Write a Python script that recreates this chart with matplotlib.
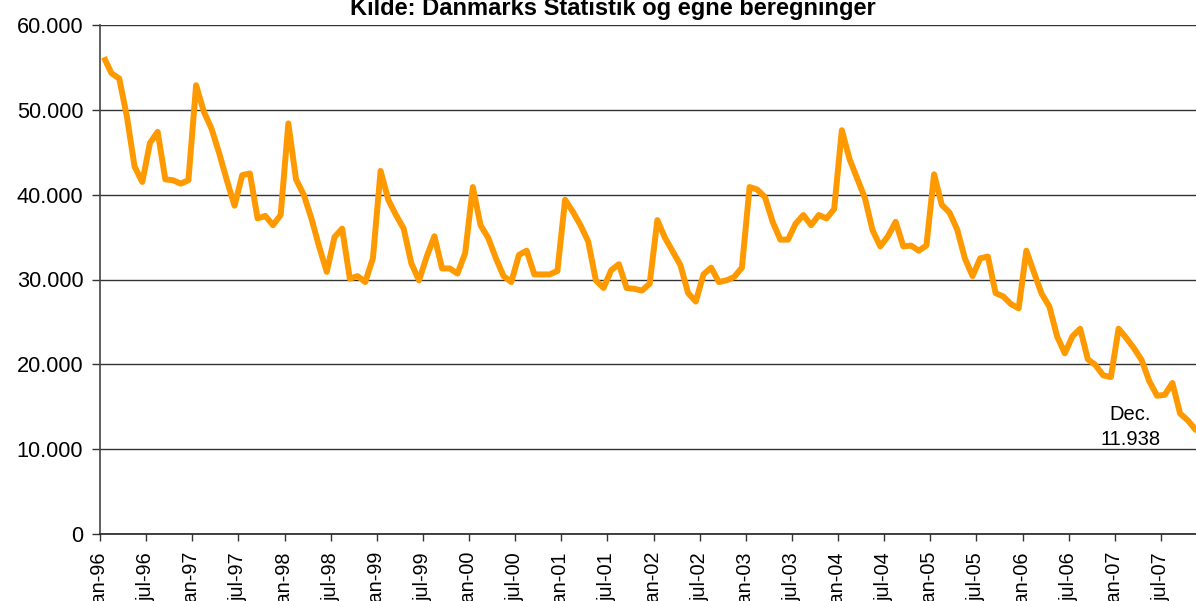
import matplotlib
matplotlib.use("Agg")
import matplotlib.pyplot as plt

plt.rcParams['font.family'] = ['Liberation Sans', 'DejaVu Sans']

title = "Kilde: Danmarks Statistik og egne beregninger"

values = [
    56200, 54300, 53700, 49200, 43300, 41500, 46100, 47400, 41800, 41700, 41300, 41700,
    52900, 49800, 47800, 44900, 41700, 38700, 42300, 42500, 37200, 37500, 36400, 37600,
    48400, 41800, 40000, 37200, 33900, 30900, 35000, 36000, 30100, 30400, 29700, 32500,
    42800, 39400, 37600, 36000, 31900, 29900, 32700, 35100, 31300, 31300, 30700, 33100,
    40900, 36400, 34900, 32500, 30400, 29700, 32900, 33400, 30600, 30600, 30600, 31000,
    39400, 38000, 36400, 34500, 29900, 29000, 31100, 31800, 29000, 28900, 28700, 29500,
    37000, 34900, 33300, 31700, 28400, 27400, 30600, 31400, 29700, 29900, 30300, 31400,
    40900, 40600, 39700, 36800, 34700, 34700, 36600, 37600, 36400, 37600, 37200, 38300,
    47600, 44200, 41900, 39600, 35800, 33900, 35100, 36800, 33900, 34000, 33400, 34000,
    42400, 38800, 37900, 35900, 32500, 30400, 32500, 32700, 28400, 28000, 27100, 26600,
    33400, 30800, 28300, 26800, 23300, 21300, 23300, 24200, 20600, 19900, 18700, 18500,
    24200, 23100, 21900, 20500, 18000, 16300, 16400, 17800, 14200, 13400, 12300, 11938,
]

tick_labels = [
    "jan-96", "jul-96", "jan-97", "jul-97", "jan-98", "jul-98", "jan-99", "jul-99",
    "jan-00", "jul-00", "jan-01", "jul-01", "jan-02", "jul-02", "jan-03", "jul-03",
    "jan-04", "jul-04", "jan-05", "jul-05", "jan-06", "jul-06", "jan-07", "jul-07",
]

y_ticks = [0, 10000, 20000, 30000, 40000, 50000, 60000]
y_tick_labels = ["0", "10.000", "20.000", "30.000", "40.000", "50.000", "60.000"]

annotation = "Dec.\n11.938"

W, H = 1196, 601
fig = plt.figure(figsize=(W / 100, H / 100), dpi=100)
left_px, right_px, top_px, bottom_px = 100, 1207, 25, 534
ax = fig.add_axes([left_px / W, 1 - bottom_px / H,
                   (right_px - left_px) / W, (bottom_px - top_px) / H])

x = list(range(len(values)))
ax.plot(x, values, color='#FF9900', lw=4.3, solid_joinstyle='round', solid_capstyle='butt', zorder=3)

ax.set_xlim(-0.5, len(values) - 0.5)
ax.set_ylim(0, 60000)

ax.set_yticks(y_ticks)
ax.set_yticklabels(y_tick_labels, fontsize=15.7)
ax.yaxis.grid(True, color='#333333', lw=1.0)
ax.set_axisbelow(True)

tick_pos = [i * 6 - 0.5 for i in range(len(tick_labels))]
ax.set_xticks(tick_pos)
ax.set_xticklabels(tick_labels, rotation=90, fontsize=14.3, ha='center', va='top')

ax.tick_params(axis='y', direction='out', length=6, width=1, color='#333333', pad=6)
ax.tick_params(axis='x', direction='out', length=5, width=1, color='#333333', pad=8)

for s in ['top', 'right']:
    ax.spines[s].set_visible(False)
ax.spines['left'].set_color('#444444')
ax.spines['left'].set_linewidth(1.2)
ax.spines['bottom'].set_color('#222222')
ax.spines['bottom'].set_linewidth(1.2)

ax.text(133.5, 12600, annotation, ha='center', va='center', fontsize=14.5,
        linespacing=1.45, zorder=4)

fig.text(613 / W, 1 - 15 / H, title, ha='center', va='baseline',
         fontsize=17, fontweight='bold')

fig.savefig("out.png", dpi=100)
